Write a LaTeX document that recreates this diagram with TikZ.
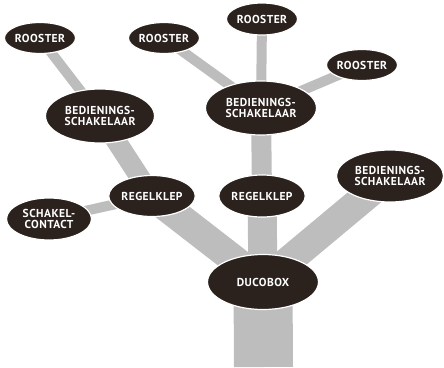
\documentclass[tikz,border=0pt]{standalone}
\usepackage{fontspec}
\setmainfont{PT Sans}
\newfontfamily\blobfont[LetterSpace=4]{PT Sans}
\usetikzlibrary{shapes.geometric,backgrounds}
\definecolor{nodedark}{HTML}{2B221E}
\definecolor{branch}{HTML}{BDBDBD}
\tikzset{
  blob/.style={ellipse, fill=nodedark, draw=white, line width=1.2pt, inner sep=0pt,
    text=white, font=\blobfont\bfseries\fontsize{11.5}{11}\selectfont, align=center},
  thin/.style={draw=branch, line width=10pt},
  mid/.style={draw=branch, line width=20pt},
  thick/.style={draw=branch, line width=29pt},
}
\begin{document}
\begin{tikzpicture}[x=1pt,y=-1pt]
\useasboundingbox (0,0) rectangle (444,367);
\node[blob, minimum width=66pt, minimum height=31pt] (r1) at (40,38) {ROOSTER};
\node[blob, minimum width=66pt, minimum height=31pt] (r2) at (164,38) {ROOSTER};
\node[blob, minimum width=67pt, minimum height=32pt] (r3) at (262,19) {ROOSTER};
\node[blob, minimum width=67pt, minimum height=31pt] (r4) at (362,65) {ROOSTER};
\node[blob, minimum width=109pt, minimum height=54pt] (b1) at (100,116) {BEDIENINGS-\\SCHAKELAAR};
\node[blob, minimum width=111pt, minimum height=54pt] (b2) at (261,108) {BEDIENINGS-\\SCHAKELAAR};
\node[blob, minimum width=107pt, minimum height=52pt] (b3) at (390,176) {BEDIENINGS-\\SCHAKELAAR};
\node[blob, minimum width=82pt, minimum height=41pt] (k1) at (152,196) {REGELKLEP};
\node[blob, minimum width=82pt, minimum height=42pt] (k2) at (262,196) {REGELKLEP};
\node[blob, minimum width=85pt, minimum height=42pt] (s1) at (49,219) {SCHAKEL-\\CONTACT};
\node[blob, minimum width=111pt, minimum height=55pt] (d) at (263,282) {DUCOBOX};
\coordinate (base) at (263.5,367);
\begin{pgfonlayer}{background}
  \draw[draw=branch, line width=59pt] (d.center) -- (base);
  \draw[thick] (d.center) -- (k1.center);
  \draw[thick] (d.center) -- (k2.center);
  \draw[thick] (d.center) -- (b3.center);
  \draw[mid] (k1.center) -- (b1.center);
  \draw[mid] (k2.center) -- (b2.center);
  \draw[thin] (k1.center) -- (s1.center);
  \draw[thin] (b1.center) -- (r1.center);
  \draw[thin] (b2.center) -- (r2.center);
  \draw[thin] (b2.center) -- (r3.center);
  \draw[thin] (b2.center) -- (r4.center);
\end{pgfonlayer}
\end{tikzpicture}
\end{document}
